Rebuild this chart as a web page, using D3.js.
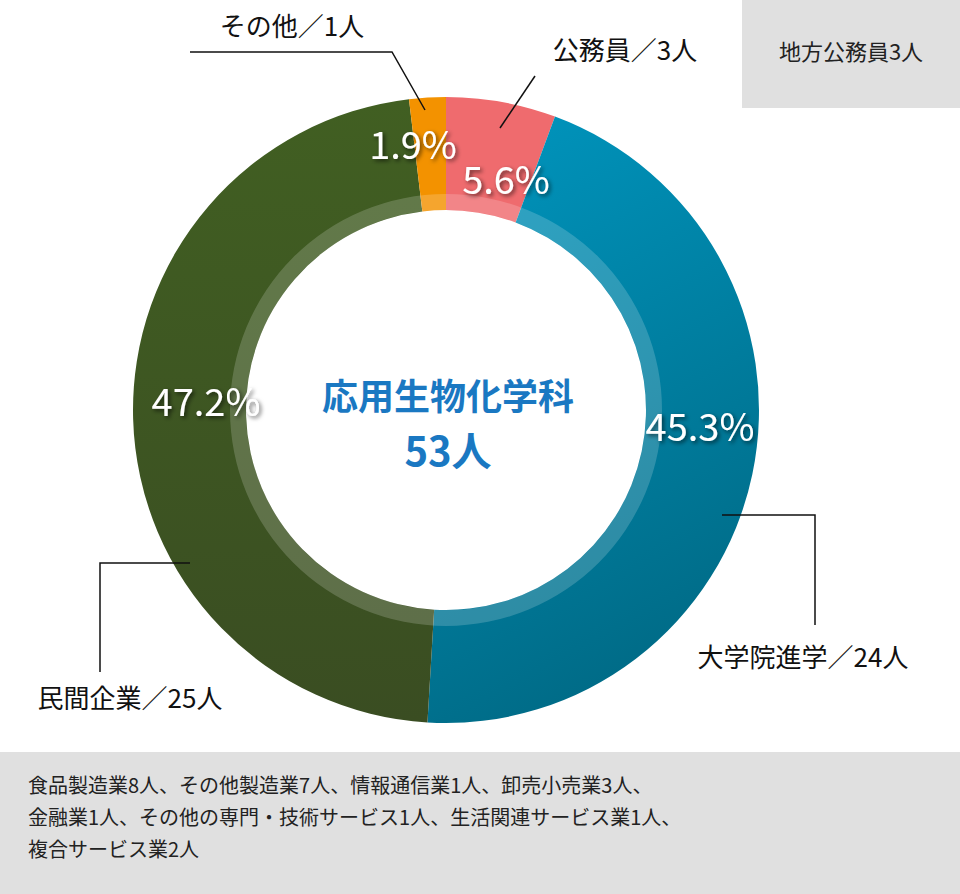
<!DOCTYPE html>
<html><head><meta charset="utf-8">
<script src="https://cdn.jsdelivr.net/npm/d3@7"></script>
<style>body{margin:0;background:#fff}text{font-family:"Noto Sans CJK JP","Noto Sans",sans-serif}</style>
</head><body><svg id="c" width="960" height="894"></svg>
<script>
const categories=["公務員","大学院進学","民間企業","その他"];
const counts=[3,24,25,1];
const percents=["5.6%","45.3%","47.2%","1.9%"];
const colors=["#ef6b6e","#0089ad","#3d5723","#f39200"];
const title=["応用生物化学科","53人"];
const noteTop="地方公務員3人";
const noteBottom=["食品製造業8人、その他製造業7人、情報通信業1人、卸売小売業3人、","金融業1人、その他の専門・技術サービス1人、生活関連サービス業1人、","複合サービス業2人"];

const svg=d3.select("#c");
const defs=svg.append("defs");
const g1=defs.append("linearGradient").attr("id","gb").attr("x1",0).attr("y1",0).attr("x2",0.3).attr("y2",1);
g1.append("stop").attr("offset",0).attr("stop-color","#0096bf");
g1.append("stop").attr("offset",1).attr("stop-color","#006c88");
const g2=defs.append("linearGradient").attr("id","gg").attr("x1",0).attr("y1",0).attr("x2",0).attr("y2",1);
g2.append("stop").attr("offset",0).attr("stop-color","#415f22");
g2.append("stop").attr("offset",1).attr("stop-color","#3a4d22");
const f=defs.append("filter").attr("id","sh").attr("x","-20%").attr("y","-20%").attr("width","140%").attr("height","140%");
f.append("feDropShadow").attr("dx",2).attr("dy",2).attr("stdDeviation",2).attr("flood-color","#000").attr("flood-opacity",0.6);
const fills=[colors[0],"url(#gb)","url(#gg)",colors[3]];

svg.append("rect").attr("x",742).attr("y",0).attr("width",218).attr("height",108).attr("fill","#e0e0e0");
svg.append("text").attr("x",851).attr("y",60).attr("text-anchor","middle").attr("font-size",22).attr("fill","#222").text(noteTop);
svg.append("rect").attr("x",0).attr("y",752).attr("width",960).attr("height",142).attr("fill","#e0e0e0");
noteBottom.forEach((t,i)=>svg.append("text").attr("x",28).attr("y",793+i*32).attr("font-size",20).attr("fill","#222").text(t));

const cx=446,cy=410,R=313,r=200;
const pie=d3.pie().sort(null).value(d=>d);
const arcs=pie(counts);
const arc=d3.arc().innerRadius(r).outerRadius(R);
const g=svg.append("g").attr("transform",`translate(${cx},${cy})`);
g.selectAll("path.s").data(arcs).join("path").attr("class","s").attr("d",arc).attr("fill",(d,i)=>fills[i]);
g.append("path").attr("d",d3.arc().innerRadius(r).outerRadius(r+16).startAngle(0).endAngle(2*Math.PI)()).attr("fill","#fff").attr("opacity",0.18);

// percent labels
const lpos=[[506,180],[700,427],[206,402],[413,145]];
percents.forEach((p,i)=>svg.append("text").attr("x",lpos[i][0]).attr("y",lpos[i][1]+14).attr("text-anchor","middle")
 .attr("font-size",38).attr("fill","#fff").attr("filter","url(#sh)").text(p));

svg.append("text").attr("x",cx+2).attr("y",410).attr("text-anchor","middle").attr("font-size",36).attr("font-weight","bold").attr("fill","#1a78c2").text(title[0]);
svg.append("text").attr("x",cx+2).attr("y",466).attr("text-anchor","middle").attr("font-size",40).attr("font-weight","bold").attr("fill","#1a78c2").text(title[1]);

const line=d3.line();
const leaders=[[[535,76],[500,128]],[[722,515],[815,515],[815,625]],[[190,563],[100,563],[100,672]],[[190,52],[392,52],[425,110]]];
leaders.forEach(l=>svg.append("path").attr("d",line(l)).attr("fill","none").attr("stroke","#111").attr("stroke-width",1.5));
const lab=[[625,60,"middle"],[803,667,"middle"],[130,708,"middle"],[292,36,"middle"]];
categories.forEach((c,i)=>svg.append("text").attr("x",lab[i][0]).attr("y",lab[i][1]).attr("text-anchor",lab[i][2]).attr("font-size",26).attr("fill","#111").text(c+"／"+counts[i]+"人"));
</script></body></html>
